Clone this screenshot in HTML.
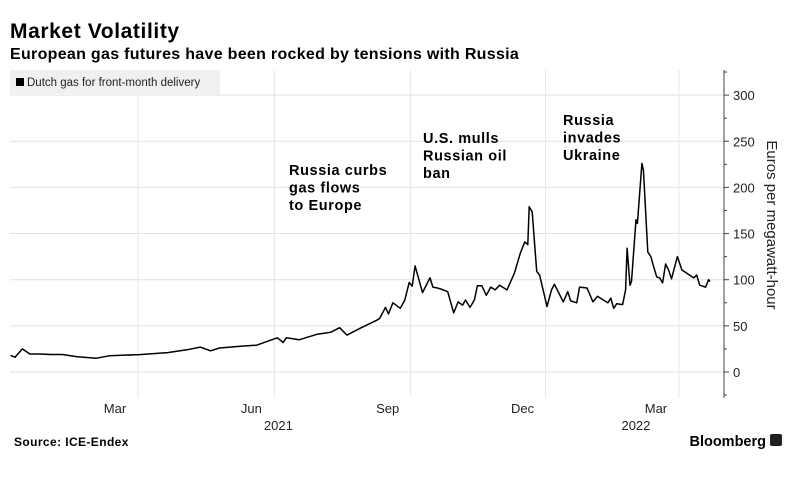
<!DOCTYPE html>
<html><head><meta charset="utf-8"><style>
body{margin:0;background:#fff;width:796px;height:494px;overflow:hidden;font-family:"Liberation Sans",sans-serif}
svg text{font-family:"Liberation Sans",sans-serif}
</style></head><body>
<svg id="chart" width="796" height="494" xmlns="http://www.w3.org/2000/svg">
<text x="10" y="38" font-size="21" font-weight="bold" letter-spacing="0.6">Market Volatility</text>
<text x="10" y="59" font-size="16" font-weight="bold" letter-spacing="0.3">European gas futures have been rocked by tensions with Russia</text>
<g id="grid"></g>
<rect x="10" y="70" width="210" height="24" fill="#f0f0f0"/>
<rect x="16" y="78" width="8" height="8" fill="#000"/>
<text x="27" y="86" font-size="11.5" fill="#222">Dutch gas for front-month delivery</text>
<g id="marks"></g>
<g font-size="14.5" font-weight="bold" letter-spacing="0.6">
<text x="289" y="175">Russia curbs<tspan x="289" dy="17.5">gas flows</tspan><tspan x="289" dy="17.5">to Europe</tspan></text>
<text x="423" y="143">U.S. mulls<tspan x="423" dy="17.5">Russian oil</tspan><tspan x="423" dy="17.5">ban</tspan></text>
<text x="563" y="125">Russia<tspan x="563" dy="17.5">invades</tspan><tspan x="563" dy="17.5">Ukraine</tspan></text>
</g>
<text transform="translate(767,225) rotate(90)" text-anchor="middle" font-size="15" fill="#222">Euros per megawatt-hour</text>
<text x="14" y="446" font-size="12" font-weight="bold" letter-spacing="0.4">Source: ICE-Endex</text>
<text x="766" y="446" text-anchor="end" font-size="14.5" font-weight="bold">Bloomberg</text>
<rect x="770" y="434" width="12" height="12" rx="2" fill="#222"/>
</svg>
<script>
const days=[-86,-83,-78,-73,-66,-59,-51,-41,-28,-19,1,20,33,42,49,55,69,80,94,98,100,109,121,130,136,141,150,161,163,167,169,172,177,180,183,185,187,192,197,199,202,206,209,213,216,219,221,224,227,229,232,235,238,241,244,249,252,254,258,261,263,264,266,269,271,276,279,281,287,290,292,296,298,303,307,310,317,319,321,323,327,329,330,332,333,336,337,340,341,344,346,348,350,352,354,356,358,360,364,367,375,377,379,383,385,386];
const values=[18,16,25,19.5,19.5,19,19,16.6,15,17.7,18.8,21,24,27,23,26,28,29,37,32,37,35,41,43,48,40,47.5,56,58,70,63,75,69,78,97,93,115,86,102,92,91,89,87,64,76,72.5,78,70,78,93.5,93.5,83,92,89,94,89,100,107,129,141,138,179,173.5,109,105,71,89,95,76,87,77,75,92,91,76,82,75,80,69,74,73,89,134,94,98,165,161,226,219,130,125,114,103,102,96.5,117,110.5,101,125,110.5,102,105,94,92,100,98];
const yTicks=[0,50,100,150,200,250,300];
const monthDays=[0,92,184,275,365];
const monthLabels=["Mar","Jun","Sep","Dec","Mar"];
const yearLabels=["2021","2022"];
const yearDays=[92,365];
const NS="http://www.w3.org/2000/svg";
const X0=10,X1=724,Y0=70,Y1=398;
function xs(d){return 138+d*1.482;}
function ys(v){return 372-v*0.923;}
function mk(tag,attrs,parent){const e=document.createElementNS(NS,tag);for(const k in attrs)e.setAttribute(k,attrs[k]);parent.appendChild(e);return e;}
const grid=document.getElementById('grid'),marks=document.getElementById('marks');
yTicks.forEach(t=>{
 const g=mk('line',{x1:X0,x2:X1,y1:ys(t),y2:ys(t),stroke:'#e2e2e2','stroke-width':1},grid);
 
 
 const tk=mk('line',{x1:X1,x2:X1+5,y1:ys(t),y2:ys(t),stroke:'#444'},grid);
 
 
 const lb=mk('text',{x:X1+9,y:ys(t)+5,'font-size':13,fill:'#222'},grid);
 lb.textContent=t;
 
 
});
for(let v=-25;v<=325;v+=50){
 const tk=mk('line',{x1:X1,x2:X1+3,y1:ys(v),y2:ys(v),stroke:'#444'},grid);
 
 
}
const ax=mk('line',{x1:X1,x2:X1,y1:Y0,y2:Y1,stroke:'#444'},grid);


monthDays.forEach((d,i)=>{
 const g=mk('line',{x1:xs(d),x2:xs(d),y1:Y0,y2:Y1,stroke:'#e6e6e6'},grid);
 
 
 const lb=mk('text',{x:xs(d)-23,y:413,'font-size':13,fill:'#222','text-anchor':'middle'},grid);
 lb.textContent=monthLabels[i];
 
 
});
const yearOffsets=[4,-43];
yearDays.forEach((d,i)=>{
 const lb=mk('text',{x:xs(d)+yearOffsets[i],y:430,'font-size':13,fill:'#222','text-anchor':'middle'},grid);
 lb.textContent=yearLabels[i];
 
 
});
const pts=days.map((d,i)=>xs(d).toFixed(1)+','+ys(values[i]).toFixed(1)).join(' ');
const line=mk('polyline',{points:pts,fill:'none',stroke:'#000','stroke-width':1.5,'stroke-linejoin':'round'},marks);


</script>
</body></html>
